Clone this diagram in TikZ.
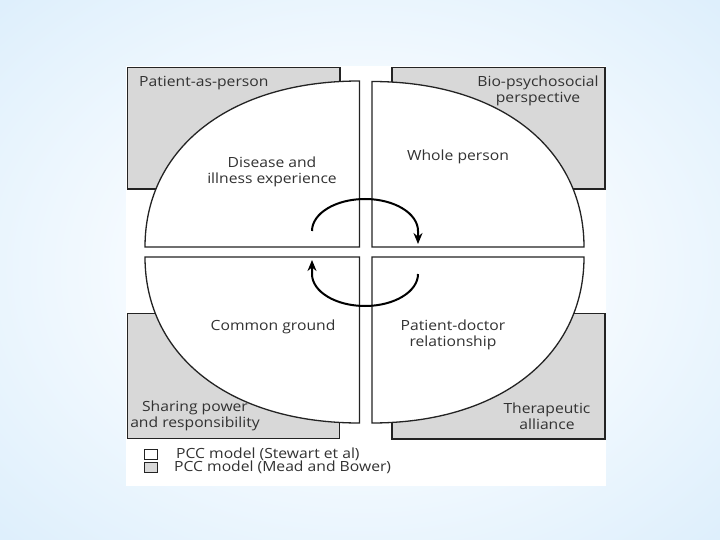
\documentclass[tikz,border=0pt]{standalone}
\usepackage{fontspec}
\setmainfont{Open Sans}[FakeStretch=1.12]
\usetikzlibrary{arrows.meta}
\definecolor{bgin}{RGB}{246,251,255}
\definecolor{bgmid}{RGB}{216,236,251}
\definecolor{bgout}{RGB}{168,208,243}
\definecolor{boxgray}{RGB}{216,216,216}
\definecolor{linecol}{RGB}{35,35,35}
\definecolor{txt}{RGB}{50,50,50}
\pgfdeclareradialshading{bgshade}{\pgfpoint{0bp}{0bp}}{color(0bp)=(bgin); color(15bp)=(bgin); color(40bp)=(bgmid); color(72bp)=(bgout)}
\tikzset{
  graybox/.style={draw=linecol, line width=1.3pt, fill=boxgray},
  quad/.style={draw=linecol, line width=1.3pt, fill=white},
  cyc/.style={draw=black, line width=2pt, -{Stealth[length=11pt,width=9pt]}},
  lbl/.style={text=txt, font=\fontsize{14}{16}\selectfont, inner sep=0pt, align=center},
  legtxt/.style={text=txt, font=\fontsize{14}{16}\selectfont, inner sep=0pt, anchor=west},
  legbox/.style={draw=linecol, line width=1pt, minimum width=13pt, minimum height=10pt, inner sep=0pt},
}
\begin{document}
\begin{tikzpicture}[x=1pt,y=-1pt]
\useasboundingbox (0,0) rectangle (720,540);
\shade[shading=bgshade] (0,0) rectangle (720,540);
\fill[white] (126,66) rectangle (606,486);
% gray boxes (Mead and Bower)
\draw[graybox] (127.5,67.5) rectangle (340,189);
\draw[graybox] (392,67.5) rectangle (605,189);
\draw[graybox] (127.5,313.5) rectangle (339.5,438.5);
\draw[graybox] (392,313.5) rectangle (605,439);
% quadrants (Stewart et al)
\draw[quad] (359.5,247) -- (145,247) .. controls (145,147.4) and (230.8,81) .. (359.5,81) -- cycle;
\draw[quad] (372,247) -- (584,247) .. controls (584,147.7) and (499.2,81.5) .. (372,81.5) -- cycle;
\draw[quad] (359.5,257) -- (145,257) .. controls (145,356.6) and (230.8,423) .. (359.5,423) -- cycle;
\draw[quad] (372,257) -- (584,257) .. controls (584,356.6) and (499.2,423) .. (372,423) -- cycle;
% cycle arrows
\coordinate (ua) at (312,231);
\coordinate (ub) at (418,244);
\coordinate (la) at (418,274);
\coordinate (lb) at (312,260);
\draw[cyc] (ua) arc[start angle=180, end angle=360, x radius=53, y radius=32] -- (ub);
\draw[cyc] (la) arc[start angle=0, end angle=180, x radius=53, y radius=32] -- (lb);
% labels
\node[lbl, anchor=west] (pap) at (139,83) {Patient-as-person};
\node[lbl] (bps) at (538,91) {Bio-psychosocial\\perspective};
\node[lbl] (die) at (272,171.5) {Disease and\\illness experience};
\node[lbl] (wp) at (458,157) {Whole person};
\node[lbl] (cg) at (273,327) {Common ground};
\node[lbl] (pdr) at (453,335) {Patient-doctor\\relationship};
\node[lbl] (spr) at (195,416) {Sharing power\\and responsibility};
\node[lbl] (ta) at (547,416.5) {Therapeutic\\alliance};
% legend
\node[legbox, fill=white] (lg1) at (151,454) {};
\node[legbox, fill=boxgray] (lg2) at (151,467) {};
\node[legtxt] (lt1) at (176,454) {PCC model (Stewart et al)};
\node[legtxt] (lt2) at (174,467) {PCC model (Mead and Bower)};
\end{tikzpicture}
\end{document}
